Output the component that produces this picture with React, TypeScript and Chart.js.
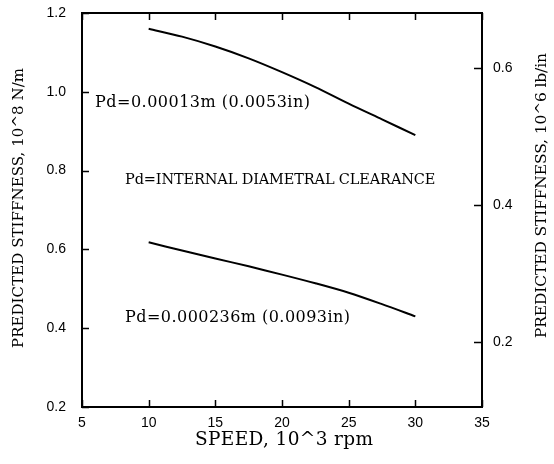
import React, { useEffect, useRef } from 'react';
import { Chart, registerables } from 'chart.js';

Chart.register(...registerables);

// Speed, 10^3 rpm
const speeds = [10, 12.5, 15, 17.5, 20, 22.5, 25, 27.5, 30];
// Predicted stiffness, 10^8 N/m
const stiffPd00013 = [1.16, 1.14, 1.115, 1.085, 1.05, 1.012, 0.97, 0.93, 0.89];
const stiffPd000236 = [0.618, 0.597, 0.577, 0.557, 0.536, 0.514, 0.49, 0.461, 0.43];

const xTickValues = [5, 10, 15, 20, 25, 30, 35];
const leftTickValues = [0.2, 0.4, 0.6, 0.8, 1.0, 1.2];
const rightTickValues = [0.2, 0.4, 0.6];

const annotationTexts = [
  'Pd=0.00013m (0.0053in)',
  'Pd=INTERNAL DIAMETRAL CLEARANCE',
  'Pd=0.000236m (0.0093in)',
];
const annotationXStart = [5.98, 8.23, 8.23];
const annotationXEnd = [22.1, 31.5, 25.1];
const annotationY = [0.971, 0.776, 0.427];

const xTitle = 'SPEED, 10^3 rpm';
const leftTitle = 'PREDICTED STIFFNESS, 10^8 N/m';
const rightTitle = 'PREDICTED STIFFNESS, 10^6 lb/in';

const SERIF = '"DejaVu Serif", serif';
const SANS = '"Liberation Sans", Arial, sans-serif';
const annotationSizes = [16, 14.5, 16];

function drawFitted(ctx: any, text: string, x: number, y: number, width: number, size: number) {
  ctx.font = `${size}px ${SERIF}`;
  ctx.letterSpacing = '0px';
  const w = ctx.measureText(text).width;
  const ls = (width - w) / (text.length - 1);
  ctx.letterSpacing = `${ls}px`;
  ctx.textAlign = 'left';
  ctx.textBaseline = 'middle';
  ctx.fillText(text, x, y);
  ctx.letterSpacing = '0px';
}

const framePlugin = {
  id: 'framePlugin',
  afterDraw(chart: any) {
    const { ctx, chartArea: a, scales } = chart;
    const x = scales.x;
    const y = scales.y;
    const y2 = scales.y2;
    ctx.save();
    ctx.strokeStyle = '#000';
    ctx.lineWidth = 2;
    ctx.strokeRect(a.left, a.top, a.right - a.left, a.bottom - a.top);
    ctx.lineWidth = 1.5;
    ctx.beginPath();
    leftTickValues.forEach((v) => {
      const py = Math.round(y.getPixelForValue(v)) + 0.5;
      ctx.moveTo(a.left, py);
      ctx.lineTo(a.left + 7, py);
    });
    rightTickValues.forEach((v) => {
      const py = Math.round(y2.getPixelForValue(v)) + 0.5;
      ctx.moveTo(a.right, py);
      ctx.lineTo(a.right - 8, py);
    });
    xTickValues.forEach((v) => {
      const px = Math.round(x.getPixelForValue(v)) + 0.5;
      ctx.moveTo(px, a.bottom);
      ctx.lineTo(px, a.bottom - 7);
      ctx.moveTo(px, a.top);
      ctx.lineTo(px, a.top + 7);
    });
    ctx.stroke();

    ctx.fillStyle = '#000';
    annotationTexts.forEach((t, i) => {
      const x0 = x.getPixelForValue(annotationXStart[i]);
      const x1 = x.getPixelForValue(annotationXEnd[i]);
      drawFitted(ctx, t, x0, y.getPixelForValue(annotationY[i]), x1 - x0, annotationSizes[i]);
    });

    drawFitted(ctx, xTitle, 195, 440, 178, 18.5);

    ctx.save();
    ctx.translate(19, 348);
    ctx.rotate(-Math.PI / 2);
    drawFitted(ctx, leftTitle, 0, 0, 280, 15);
    ctx.restore();

    ctx.save();
    ctx.translate(542, 338);
    ctx.rotate(-Math.PI / 2);
    drawFitted(ctx, rightTitle, 0, 0, 285, 15.5);
    ctx.restore();

    ctx.restore();
  },
};

export default function App() {
  const ref = useRef<HTMLCanvasElement | null>(null);

  useEffect(() => {
    if (!ref.current) return;
    const tickFont = { family: SANS, size: 14 };
    const noPad = (s: any) => {
      s.paddingTop = 0;
      s.paddingBottom = 0;
      s.paddingLeft = 0;
      s.paddingRight = 0;
    };
    const chart = new Chart(ref.current, {
      type: 'line',
      data: {
        datasets: [
          {
            data: speeds.map((s, i) => ({ x: s, y: stiffPd00013[i] })),
            borderColor: '#000',
            borderWidth: 2,
            pointRadius: 0,
            tension: 0.3,
            yAxisID: 'y',
          },
          {
            data: speeds.map((s, i) => ({ x: s, y: stiffPd000236[i] })),
            borderColor: '#000',
            borderWidth: 2,
            pointRadius: 0,
            tension: 0.3,
            yAxisID: 'y',
          },
        ],
      },
      options: {
        animation: false,
        responsive: true,
        maintainAspectRatio: false,
        layout: { padding: { top: 13, left: 0, right: 0, bottom: 0 } },
        plugins: { legend: { display: false }, tooltip: { enabled: false }, title: { display: false } },
        scales: {
          x: {
            type: 'linear',
            position: 'bottom',
            min: 5,
            max: 35,
            grid: { display: false, drawTicks: false },
            border: { display: false },
            afterBuildTicks: (s: any) => {
              s.ticks = xTickValues.map((v) => ({ value: v }));
            },
            afterFit: (s: any) => {
              s.height = 57;
              noPad(s);
            },
            ticks: { padding: 8, font: tickFont, color: '#000', callback: (v: any) => String(v) },
          },
          y: {
            type: 'linear',
            position: 'left',
            min: 0.2,
            max: 1.2,
            grid: { display: false, drawTicks: false },
            border: { display: false },
            afterBuildTicks: (s: any) => {
              s.ticks = leftTickValues.map((v) => ({ value: v }));
            },
            afterFit: (s: any) => {
              s.width = 82;
              noPad(s);
            },
            ticks: { padding: 16, font: tickFont, color: '#000', callback: (v: any) => Number(v).toFixed(1) },
          },
          y2: {
            type: 'linear',
            position: 'right',
            min: 0.105,
            max: 0.68,
            grid: { display: false, drawTicks: false },
            border: { display: false },
            afterBuildTicks: (s: any) => {
              s.ticks = rightTickValues.map((v) => ({ value: v }));
            },
            afterFit: (s: any) => {
              s.width = 72;
              noPad(s);
            },
            ticks: { padding: 11, font: tickFont, color: '#000', callback: (v: any) => Number(v).toFixed(1) },
          },
        },
      } as any,
      plugins: [framePlugin],
    });
    return () => chart.destroy();
  }, []);

  return (
    <div style={{ position: 'fixed', left: 0, top: 0, width: 554, height: 464, background: '#fff' }}>
      <canvas ref={ref} />
    </div>
  );
}
